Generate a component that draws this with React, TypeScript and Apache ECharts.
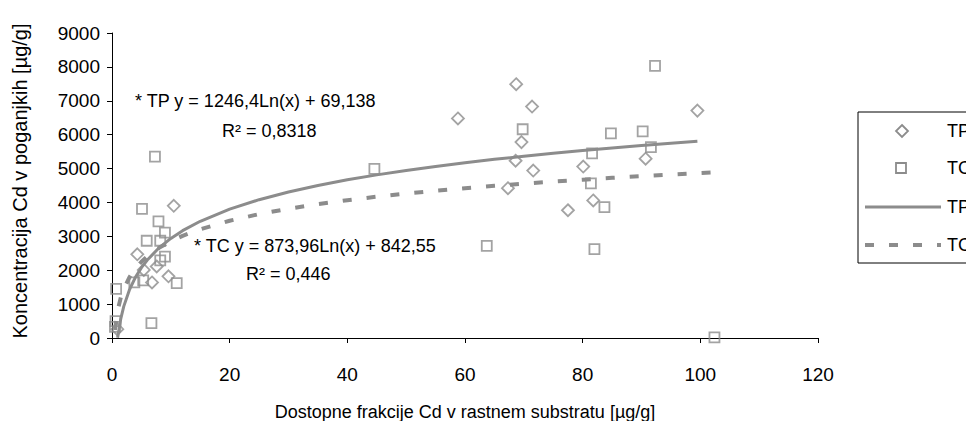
import React, { useEffect, useRef } from "react";
import * as echarts from "echarts";

// TP (diamonds): [Dostopne frakcije Cd, Koncentracija Cd]
const tpPoints: [number, number][] = [
  [0.9, 260], [4.3, 2470], [5.4, 2010], [6.8, 1640], [7.6, 2110], [9.6, 1820], [10.5, 3900],
  [58.8, 6480], [67.3, 4420], [68.6, 5230], [68.7, 7490], [69.6, 5780], [71.4, 6830],
  [71.6, 4940], [77.5, 3770], [80.1, 5060], [81.8, 4060], [90.7, 5290], [99.5, 6710],
];
// TC (squares)
const tcPoints: [number, number][] = [
  [0.5, 330], [0.6, 500], [0.7, 1450], [3.8, 1640], [5.3, 1700], [5.1, 3810], [5.9, 2870],
  [6.7, 440], [7.3, 5350], [7.9, 3440], [8.2, 2870], [8.2, 2290], [9.0, 3110], [9.0, 2400],
  [11.0, 1620], [44.6, 4990], [63.7, 2720], [69.8, 6160], [81.4, 4560], [81.6, 5450],
  [82.0, 2620], [83.7, 3860], [84.8, 6040], [90.2, 6100], [91.6, 5630], [92.3, 8030], [102.4, 20],
];
// Logarithmic trend lines, coefficients as printed on the chart
const tpCoef = { a: 1246.4, b: 69.138 };
const tcCoef = { a: 873.96, b: 842.55 };
const tpTrendX = [0.95, 1.5, 2, 3, 4, 5, 6, 8, 10, 12, 15, 20, 25, 30, 35, 40, 45, 50, 55, 60, 65, 70, 75, 80, 85, 90, 95, 99.5];
const tcTrendX = [0.5, 1, 1.5, 2, 3, 4, 5, 6, 8, 10, 12, 15, 20, 25, 30, 35, 40, 45, 50, 55, 60, 65, 70, 75, 80, 85, 90, 95, 100, 102.4];

const xTicks = { min: 0, max: 120, interval: 20 };
const yTicks = { min: 0, max: 9000, interval: 1000 };
const legendNames = ["TP", "TC", "TP", "TC"];

const FONT = "'Liberation Sans', Arial, sans-serif";
const GREY = "#8c8c8c";

export default function App() {
  const ref = useRef<HTMLDivElement>(null);
  useEffect(() => {
    if (!ref.current) return;
    const chart = echarts.init(ref.current, undefined, { renderer: "svg" });
    const tpTrend = tpTrendX.map((x) => [x, tpCoef.a * Math.log(x) + tpCoef.b]);
    const tcTrend = tcTrendX.map((x) => [x, tcCoef.a * Math.log(x) + tcCoef.b]);
    const txt = (x: number, y: number, text: string, size = 18, align = "left") => ({
      type: "text",
      x,
      y,
      style: { text, fill: "#000", font: `${size}px ${FONT}`, textAlign: align, textVerticalAlign: "middle" },
    });
    const legendY = [131, 168, 207, 245];
    chart.setOption({
      animation: false,
      backgroundColor: "#fff",
      textStyle: { fontFamily: FONT },
      grid: { left: 112, right: 148, top: 33, bottom: 83, containLabel: false },
      xAxis: {
        type: "value",
        min: xTicks.min,
        max: xTicks.max,
        interval: xTicks.interval,
        splitLine: { show: false },
        axisLine: { show: true, onZero: false, lineStyle: { color: "#000", width: 1 } },
        axisTick: { show: true, length: 5, lineStyle: { color: "#000" } },
        axisLabel: { color: "#000", fontSize: 19, margin: 27, fontFamily: FONT, formatter: (v: number) => String(v) },
      },
      yAxis: {
        type: "value",
        min: yTicks.min,
        max: yTicks.max,
        interval: yTicks.interval,
        splitLine: { show: false },
        axisLine: { show: true, onZero: false, lineStyle: { color: "#000", width: 1 } },
        axisTick: { show: true, length: 5, lineStyle: { color: "#000" } },
        axisLabel: { color: "#000", fontSize: 19, margin: 12, fontFamily: FONT, formatter: (v: number) => String(v) },
      },
      series: [
        {
          name: "TP trend",
          type: "line",
          data: tpTrend,
          showSymbol: false,
          lineStyle: { color: GREY, width: 3 },
          z: 2,
        },
        {
          name: "TC trend",
          type: "line",
          data: tcTrend,
          showSymbol: false,
          lineStyle: { color: GREY, width: 4, type: [9, 15] },
          z: 2,
        },
        {
          name: "TP",
          type: "scatter",
          data: tpPoints,
          symbol: "diamond",
          symbolSize: 12,
          itemStyle: { color: "rgba(255,255,255,0)", borderColor: GREY, borderWidth: 1.8 },
          z: 3,
        },
        {
          name: "TC",
          type: "scatter",
          data: tcPoints,
          symbol: "rect",
          symbolSize: 10,
          itemStyle: { color: "rgba(255,255,255,0)", borderColor: GREY, borderWidth: 1.8 },
          z: 3,
        },
      ],
      graphic: [
        txt(135, 101, "* TP y = 1246,4Ln(x) + 69,138"),
        txt(222, 131, "R² = 0,8318"),
        txt(194, 246, "* TC y = 873,96Ln(x) + 842,55"),
        txt(246, 274, "R² = 0,446"),
        txt(465, 412, "Dostopne frakcije Cd v rastnem substratu [µg/g]", 18, "center"),
        {
          type: "text",
          x: 20,
          y: 181,
          rotation: Math.PI / 2,
          style: {
            text: "Koncentracija Cd v poganjkih [µg/g]",
            fill: "#000",
            font: `20px ${FONT}`,
            textAlign: "center",
            textVerticalAlign: "middle",
          },
        },
        {
          type: "rect",
          shape: { x: 858, y: 112, width: 140, height: 151 },
          style: { fill: "#fff", stroke: "#000", lineWidth: 1 },
        },
        {
          type: "polygon",
          shape: { points: [[902, 125], [908, 131], [902, 137], [896, 131]] },
          style: { fill: "none", stroke: GREY, lineWidth: 1.8 },
        },
        {
          type: "rect",
          shape: { x: 896, y: 163, width: 10, height: 10 },
          style: { fill: "none", stroke: GREY, lineWidth: 1.8 },
        },
        {
          type: "line",
          shape: { x1: 865, y1: 207, x2: 941, y2: 207 },
          style: { stroke: GREY, lineWidth: 3 },
        },
        {
          type: "line",
          shape: { x1: 865, y1: 245, x2: 941, y2: 245 },
          style: { stroke: GREY, lineWidth: 4, lineDash: [9, 15] },
        },
        ...legendNames.map((n, i) => txt(947, legendY[i], n)),
      ],
    });
    return () => chart.dispose();
  }, []);
  return (
    <div
      ref={ref}
      style={{ position: "fixed", left: 0, top: 0, width: 966, height: 421, background: "#fff" }}
    />
  );
}
